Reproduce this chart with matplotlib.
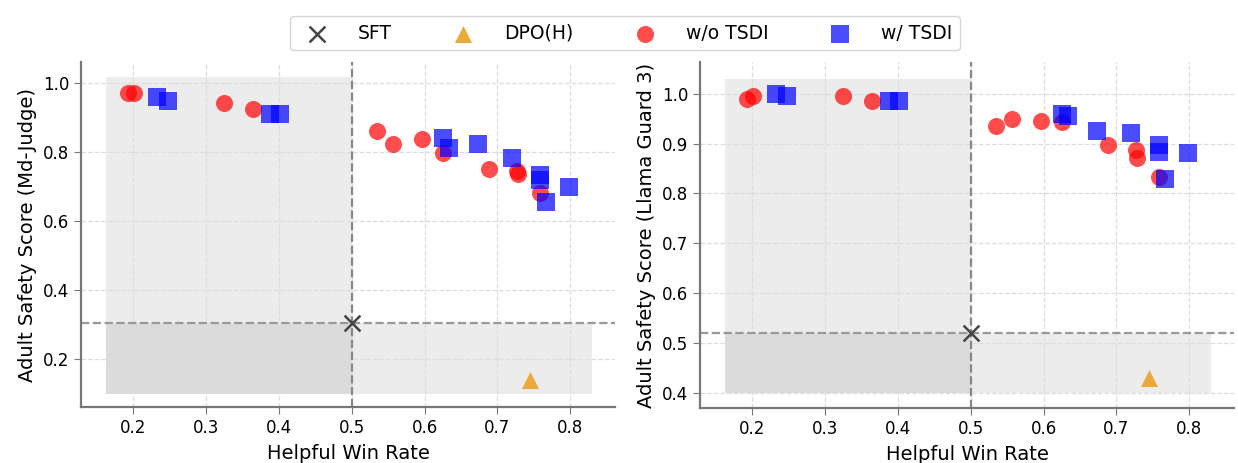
import numpy as np
import matplotlib
matplotlib.use("Agg")
import matplotlib.pyplot as plt

# helpful win rate (shared by both panels)
x_sans = [0.193, 0.201, 0.325, 0.364, 0.534, 0.557, 0.596, 0.626, 0.689, 0.727, 0.729, 0.759]
x_avec = [0.232, 0.248, 0.387, 0.402, 0.626, 0.634, 0.673, 0.720, 0.759, 0.759, 0.767, 0.798]

# panel 1 : Md-Judge
y_sans_md = [0.971, 0.971, 0.942, 0.926, 0.862, 0.824, 0.839, 0.797, 0.751, 0.745, 0.738, 0.681]
y_avec_md = [0.961, 0.950, 0.911, 0.911, 0.843, 0.813, 0.823, 0.784, 0.734, 0.720, 0.657, 0.700]
sft_md = (0.5, 0.305)
dpo_md = (0.745, 0.14)

# panel 2 : Llama Guard 3
y_sans_lg = [0.989, 0.995, 0.995, 0.985, 0.935, 0.950, 0.945, 0.943, 0.897, 0.887, 0.871, 0.833]
y_avec_lg = [0.999, 0.995, 0.985, 0.985, 0.960, 0.955, 0.925, 0.921, 0.897, 0.883, 0.828, 0.881]
sft_lg = (0.5, 0.52)
dpo_lg = (0.745, 0.43)

ylabels = ['Adult Safety Score (Md-Judge)', 'Adult Safety Score (Llama Guard 3)']
ylims = [(0.062, 1.062), (0.371, 1.063)]
bas = [0.1, 0.4]
hauts = [1.018, 1.03]

fig = plt.figure(figsize=(12.38, 4.63), dpi=100)
ax1 = fig.add_axes([0.0654, 0.121, 0.4316, 0.745])
ax2 = fig.add_axes([0.5654, 0.119, 0.4316, 0.747])

donnees = [(ax1, y_sans_md, y_avec_md, sft_md, dpo_md),
           (ax2, y_sans_lg, y_avec_lg, sft_lg, dpo_lg)]

for i, (ax, ys, ya, sft, dpo) in enumerate(donnees):
    # zones grises
    ax.fill_between([0.163, sft[0]], bas[i], hauts[i], color='gray', alpha=0.15, lw=0, zorder=0)
    ax.fill_between([0.163, 0.83], bas[i], sft[1], color='gray', alpha=0.15, lw=0, zorder=0)
    ax.axvline(sft[0], color='#888888', ls='--', lw=1.6, zorder=1)
    ax.axhline(sft[1], color='#999999', ls='--', lw=1.6, zorder=1)
    ax.grid(True, ls='--', color='#dddddd', lw=0.9, zorder=0)
    ax.set_axisbelow(True)

    ax.scatter(x_sans, ys, s=150, marker='o', color='red', alpha=0.7, lw=0, zorder=3, label='w/o TSDI')
    ax.scatter(x_avec, ya, s=150, marker='s', color='blue', alpha=0.7, lw=0, zorder=3, label='w/ TSDI')
    ax.scatter([sft[0]], [sft[1]], s=130, marker='x', color='#444444', lw=1.8, zorder=4, label='SFT')
    ax.scatter([dpo[0]], [dpo[1]], s=150, marker='^', color='#eba93c', lw=0, zorder=4, label='DPO(H)')

    ax.set_xlim(0.128, 0.862)
    ax.set_ylim(ylims[i])
    ax.set_xticks([0.2, 0.3, 0.4, 0.5, 0.6, 0.7, 0.8])
    ax.set_xlabel('Helpful Win Rate', fontsize=14, labelpad=5)
    ax.set_ylabel(ylabels[i], fontsize=14)
    ax.tick_params(labelsize=12, color='#777777', length=5)
    for cote in ['top', 'right']:
        ax.spines[cote].set_visible(False)
    for cote in ['left', 'bottom']:
        ax.spines[cote].set_color('#777777')
        ax.spines[cote].set_linewidth(1.6)

ax2.set_yticks([0.4, 0.5, 0.6, 0.7, 0.8, 0.9, 1.0])

handles, labels = ax1.get_legend_handles_labels()
ordre = [2, 3, 0, 1]
fig.legend([handles[k] for k in ordre], [labels[k] for k in ordre],
           loc='upper center', bbox_to_anchor=(0.505, 0.985), ncol=4,
           fontsize=13.5, columnspacing=2.8, handletextpad=1.2, frameon=True)

plt.savefig('out.png', dpi=100)
